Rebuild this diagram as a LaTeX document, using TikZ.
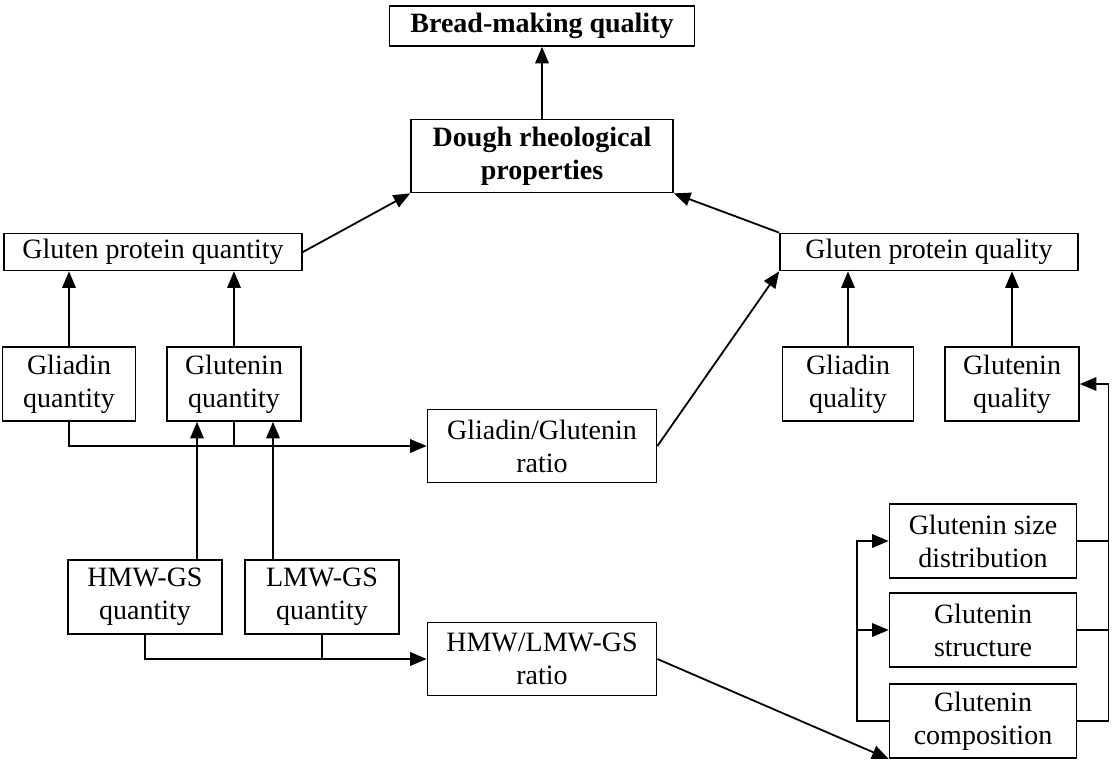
\documentclass[tikz,border=0pt]{standalone}
\usepackage{fontspec}
\setmainfont{Liberation Serif}
\usepackage{tikz}
\usetikzlibrary{shapes,arrows}
\tikzstyle{block} = [draw, fill=white, rectangle, align=center, inner sep=0pt,
font=\fontsize{14}{16.5}\selectfont, minimum height=37pt, minimum width=67pt]
\tikzstyle{wideblock} = [block, minimum height=18.5pt, minimum width=149pt]
\tikzstyle{ratioblock} = [block, minimum height=36.5pt, minimum width=114.5pt]
\tikzstyle{gluteninblock} = [block, minimum width=93.5pt]

\begin{document}
\begin{tikzpicture}[x=1pt, y=1pt, >=triangle 45, line width=0.9pt]

	\useasboundingbox (0,0) rectangle (556,-380);

	\node [block, font=\fontsize{14}{16.5}\selectfont\bfseries, minimum height=20pt, minimum width=152.5pt] (bread) at (271,-13) {Bread-making quality};
	\node [block, font=\fontsize{14}{16.5}\selectfont\bfseries, minimum height=36.5pt, minimum width=131pt, below of=bread, node distance=65pt] (dough) {Dough rheological\\properties};

	\node [wideblock] (gluten quantity) at (76.5,-126) {Gluten protein quantity};
	\node [wideblock, right of=gluten quantity, node distance=388pt] (gluten quality) {Gluten protein quality};

	\node [block, minimum width=66.5pt] (gliadin quantity) at (34.5,-192) {Gliadin\\quantity};
	\node [block, right of=gliadin quantity, node distance=82.5pt] (glutenin quantity) {Glutenin\\quantity};
	\node [ratioblock] (gg ratio) at (271,-223) {Gliadin/Glutenin\\ratio};
	\node [block, minimum width=65.5pt] (gliadin quality) at (424,-192) {Gliadin\\quality};
	\node [block, right of=gliadin quality, node distance=82pt] (glutenin quality) {Glutenin\\quality};

	\node [block, minimum width=77pt] (hmw) at (72.5,-298.5) {HMW-GS\\quantity};
	\node [block, minimum width=77pt, right of=hmw, node distance=88.5pt] (lmw) {LMW-GS\\quantity};
	\node [ratioblock, below of=gg ratio, node distance=106.5pt] (hl ratio) {HMW/LMW-GS\\ratio};

	\node [gluteninblock] (size) at (491.5,-270.5) {Glutenin size\\distribution};
	\node [gluteninblock, below of=size, node distance=44.5pt] (structure) {Glutenin\\structure};
	\node [gluteninblock, below of=structure, node distance=45.5pt] (composition) {Glutenin\\composition};

	\draw [->] (dough) -- (bread);
	\draw [->] (gluten quantity.east) -- (dough.south west);
	\draw [->] (gluten quality.north west) -- (dough.south east);
	\draw [->] (gg ratio.east) -- (gluten quality.south west);

	\draw [->] (gliadin quantity) -- (gliadin quantity |- gluten quantity.south);
	\draw [->] (glutenin quantity) -- (glutenin quantity |- gluten quantity.south);
	\draw [->] (gliadin quality) -- (gliadin quality |- gluten quality.south);
	\draw [->] (glutenin quality) -- (glutenin quality |- gluten quality.south);

	\draw [->] (gliadin quantity.south) |- (gg ratio.west);
	\draw (glutenin quantity.south) -- (glutenin quantity.south |- gg ratio.west);

	\coordinate (hmw in) at ([xshift=-18.5pt]glutenin quantity.south);
	\coordinate (lmw in) at ([xshift=19.5pt]glutenin quantity.south);
	\draw [->] (hmw in |- hmw.north) -- (hmw in);
	\draw [->] (lmw in |- lmw.north) -- (lmw in);

	\draw [->] (hmw.south) |- (hl ratio.west);
	\draw (lmw.south) -- (lmw.south |- hl ratio.west);
	\draw [->] (hl ratio.east) -- (composition.south west);

	\coordinate (left bus) at ([xshift=-16pt]composition.west);
	\coordinate (right bus) at ([xshift=15.5pt]composition.east);
	\draw [->] (composition.west) -- (left bus) |- (size.west);
	\draw [->] (left bus |- structure.west) -- (structure.west);
	\draw [->] (composition.east) -- (right bus) |- (glutenin quality.east);
	\draw (size.east) -- (size.east -| right bus);
	\draw (structure.east) -- (structure.east -| right bus);

\end{tikzpicture}
\end{document}
